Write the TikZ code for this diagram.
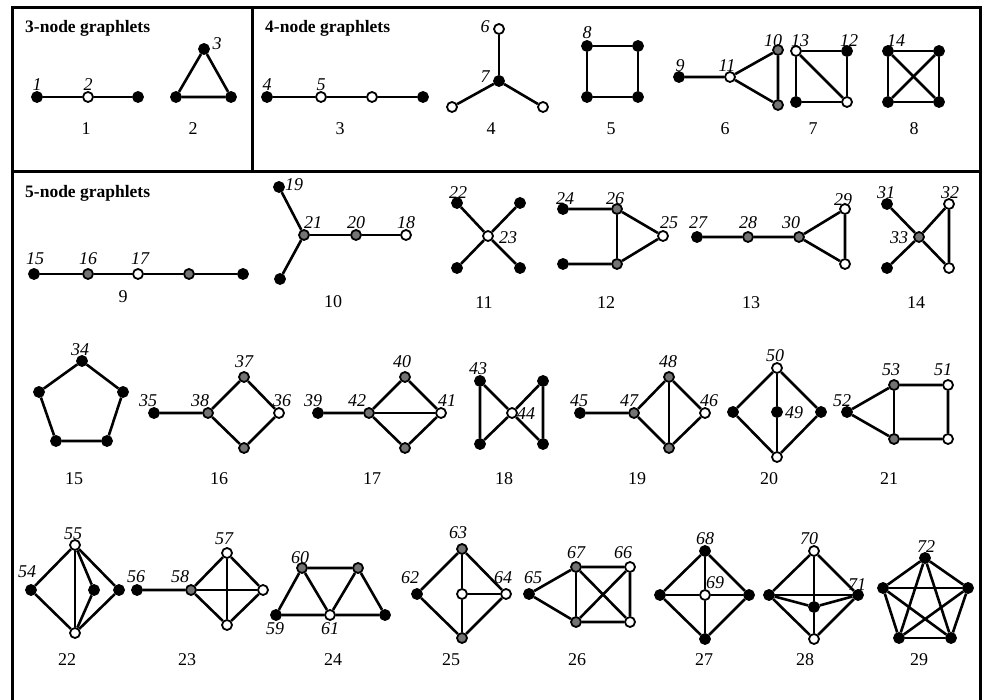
\documentclass[tikz,border=0pt]{standalone}
\usepackage{fontspec}
\setmainfont{Liberation Serif}

\tikzset{
  vb/.style={circle, draw=black, line width=1.8pt, fill=black, minimum size=10pt, inner sep=0pt},
  vw/.style={vb, fill=white},
  vg/.style={vb, fill=black!55},
  lbl/.style={font=\fontsize{18}{18}\selectfont\itshape, inner sep=0pt},
  gnum/.style={font=\fontsize{18}{18}\selectfont, inner sep=0pt},
  ttl/.style={font=\fontsize{17.5}{17.5}\selectfont\bfseries, inner sep=0pt, anchor=west},
  edge/.style={line width=2.6pt},
  frame/.style={line width=3pt}
}

\begin{document}
\begin{tikzpicture}[x=1pt, y=-1pt]

    \useasboundingbox (0,0) rectangle (986,700);

    %----- FRAME -----
    \draw[frame] (12,702) -- (12,8) -- (980,8) -- (980,702);
    \draw[frame] (12,172) -- (980,172);
    \draw[frame] (252,8) -- (252,172);

    %----- TITLES -----
    \node[ttl] (t3) at (25,28) {3-node graphlets};
    \node[ttl] (t4) at (265,28) {4-node graphlets};
    \node[ttl] (t5) at (25,193) {5-node graphlets};

    %----- GRAPHLET 1 -----
    \node[vb] (g1a) at (37,97) {};
    \node[vw] (g1b) at (88,97) {};
    \node[vb] (g1c) at (138,97) {};
    \draw[edge] (g1a) -- (g1b) -- (g1c);
    \node[lbl] (l1) at (37,85) {1};
    \node[lbl] (l2) at (88,85) {2};
    \node[gnum] (n1) at (86,129) {1};

    %----- GRAPHLET 2 -----
    \node[vb] (g2a) at (204,49) {};
    \node[vb] (g2b) at (176,97) {};
    \node[vb] (g2c) at (231,97) {};
    \draw[edge] (g2a) -- (g2b) -- (g2c) -- (g2a);
    \node[lbl] (l3) at (217,44) {3};
    \node[gnum] (n2) at (193,129) {2};

    %----- GRAPHLET 3 -----
    \node[vb] (g3a) at (267,97) {};
    \node[vw] (g3b) at (321,97) {};
    \node[vw] (g3c) at (372,97) {};
    \node[vb] (g3d) at (423,97) {};
    \draw[edge] (g3a) -- (g3b) -- (g3c) -- (g3d);
    \node[lbl] (l4) at (267,85) {4};
    \node[lbl] (l5) at (321,85) {5};
    \node[gnum] (n3) at (340,129) {3};

    %----- GRAPHLET 4 -----
    \node[vb] (g4a) at (499,81) {};
    \node[vw] (g4b) at (499,29) {};
    \node[vw] (g4c) at (452,107) {};
    \node[vw] (g4d) at (543,107) {};
    \draw[edge] (g4a) -- (g4b);
    \draw[edge] (g4a) -- (g4c);
    \draw[edge] (g4a) -- (g4d);
    \node[lbl] (l6) at (485,27) {6};
    \node[lbl] (l7) at (485,77) {7};
    \node[gnum] (n4) at (491,129) {4};

    %----- GRAPHLET 5 -----
    \node[vb] (g5a) at (587,46) {};
    \node[vb] (g5b) at (638,46) {};
    \node[vb] (g5c) at (587,97) {};
    \node[vb] (g5d) at (638,97) {};
    \draw[edge] (g5a) -- (g5b) -- (g5d) -- (g5c) -- (g5a);
    \node[lbl] (l8) at (587,33) {8};
    \node[gnum] (n5) at (611,129) {5};

    %----- GRAPHLET 6 -----
    \node[vb] (g6a) at (679,77) {};
    \node[vw] (g6b) at (730,77) {};
    \node[vg] (g6c) at (778,50) {};
    \node[vg] (g6d) at (778,105) {};
    \draw[edge] (g6a) -- (g6b) -- (g6c) -- (g6d) -- (g6b);
    \node[lbl] (l9) at (680,66) {9};
    \node[lbl] (l11) at (727,66) {11};
    \node[lbl] (l10) at (773,41) {10};
    \node[gnum] (n6) at (725,129) {6};

    %----- GRAPHLET 7 -----
    \node[vw] (g7a) at (796,51) {};
    \node[vb] (g7b) at (847,51) {};
    \node[vb] (g7c) at (796,102) {};
    \node[vw] (g7d) at (847,102) {};
    \draw[edge] (g7a) -- (g7b) -- (g7d) -- (g7c) -- (g7a);
    \draw[edge] (g7a) -- (g7d);
    \node[lbl] (l13) at (800,41) {13};
    \node[lbl] (l12) at (849,41) {12};
    \node[gnum] (n7) at (813,129) {7};

    %----- GRAPHLET 8 -----
    \node[vb] (g8a) at (888,51) {};
    \node[vb] (g8b) at (939,51) {};
    \node[vb] (g8c) at (888,102) {};
    \node[vb] (g8d) at (939,102) {};
    \draw[edge] (g8a) -- (g8b) -- (g8d) -- (g8c) -- (g8a);
    \draw[edge] (g8a) -- (g8d);
    \draw[edge] (g8b) -- (g8c);
    \node[lbl] (l14) at (896,41) {14};
    \node[gnum] (n8) at (914,129) {8};

    %----- GRAPHLET 9 -----
    \node[vb] (g9a) at (34,274) {};
    \node[vg] (g9b) at (88,274) {};
    \node[vw] (g9c) at (138,274) {};
    \node[vg] (g9d) at (189,274) {};
    \node[vb] (g9e) at (243,274) {};
    \draw[edge] (g9a) -- (g9b) -- (g9c) -- (g9d) -- (g9e);
    \node[lbl] (l15) at (35,259) {15};
    \node[lbl] (l16) at (88,259) {16};
    \node[lbl] (l17) at (140,259) {17};
    \node[gnum] (n9) at (123,297) {9};

    %----- GRAPHLET 10 -----
    \node[vb] (g10a) at (279,187) {};
    \node[vg] (g10b) at (304,235) {};
    \node[vb] (g10c) at (280,279) {};
    \node[vg] (g10d) at (356,235) {};
    \node[vw] (g10e) at (406,235) {};
    \draw[edge] (g10a) -- (g10b) -- (g10c);
    \draw[edge] (g10b) -- (g10d) -- (g10e);
    \node[lbl] (l19) at (294,185) {19};
    \node[lbl] (l21) at (313,223) {21};
    \node[lbl] (l20) at (356,223) {20};
    \node[lbl] (l18) at (406,223) {18};
    \node[gnum] (n10) at (333,302) {10};

    %----- GRAPHLET 11 -----
    \node[vw] (g11c) at (488,236) {};
    \node[vb] (g11a) at (457,203) {};
    \node[vb] (g11b) at (520,203) {};
    \node[vb] (g11d) at (457,268) {};
    \node[vb] (g11e) at (520,268) {};
    \draw[edge] (g11a) -- (g11c) -- (g11e);
    \draw[edge] (g11b) -- (g11c) -- (g11d);
    \node[lbl] (l22) at (458,193) {22};
    \node[lbl] (l23) at (508,238) {23};
    \node[gnum] (n11) at (484,303) {11};

    %----- GRAPHLET 12 -----
    \node[vb] (g12a) at (563,209) {};
    \node[vg] (g12b) at (617,209) {};
    \node[vb] (g12c) at (563,264) {};
    \node[vg] (g12d) at (617,264) {};
    \node[vw] (g12e) at (663,236) {};
    \draw[edge] (g12a) -- (g12b) -- (g12e) -- (g12d) -- (g12c);
    \draw[edge] (g12b) -- (g12d);
    \node[lbl] (l24) at (565,199) {24};
    \node[lbl] (l26) at (615,199) {26};
    \node[lbl] (l25) at (669,223) {25};
    \node[gnum] (n12) at (606,303) {12};

    %----- GRAPHLET 13 -----
    \node[vb] (g13a) at (697,237) {};
    \node[vg] (g13b) at (748,237) {};
    \node[vg] (g13c) at (799,237) {};
    \node[vw] (g13d) at (845,209) {};
    \node[vw] (g13e) at (845,264) {};
    \draw[edge] (g13a) -- (g13b) -- (g13c) -- (g13d) -- (g13e) -- (g13c);
    \node[lbl] (l27) at (698,223) {27};
    \node[lbl] (l28) at (748,223) {28};
    \node[lbl] (l30) at (791,223) {30};
    \node[lbl] (l29) at (843,200) {29};
    \node[gnum] (n13) at (751,303) {13};

    %----- GRAPHLET 14 -----
    \node[vb] (g14a) at (887,204) {};
    \node[vw] (g14b) at (949,204) {};
    \node[vg] (g14c) at (919,237) {};
    \node[vb] (g14d) at (887,268) {};
    \node[vw] (g14e) at (949,268) {};
    \draw[edge] (g14a) -- (g14c) -- (g14e) -- (g14b) -- (g14c) -- (g14d);
    \node[lbl] (l31) at (886,193) {31};
    \node[lbl] (l32) at (950,193) {32};
    \node[lbl] (l33) at (899,238) {33};
    \node[gnum] (n14) at (916,303) {14};

    %----- GRAPHLET 15 -----
    \node[vb] (g15a) at (82,361) {};
    \node[vb] (g15b) at (39,392) {};
    \node[vb] (g15c) at (123,392) {};
    \node[vb] (g15d) at (56,441) {};
    \node[vb] (g15e) at (107,441) {};
    \draw[edge] (g15a) -- (g15c) -- (g15e) -- (g15d) -- (g15b) -- (g15a);
    \node[lbl] (l34) at (80,350) {34};
    \node[gnum] (n15) at (74,479) {15};

    %----- GRAPHLET 16 -----
    \node[vb] (g16a) at (154,413) {};
    \node[vg] (g16b) at (208,413) {};
    \node[vg] (g16c) at (244,377) {};
    \node[vw] (g16d) at (279,413) {};
    \node[vg] (g16e) at (244,448) {};
    \draw[edge] (g16a) -- (g16b) -- (g16c) -- (g16d) -- (g16e) -- (g16b);
    \node[lbl] (l35) at (148,401) {35};
    \node[lbl] (l38) at (200,401) {38};
    \node[lbl] (l37) at (244,362) {37};
    \node[lbl] (l36) at (282,401) {36};
    \node[gnum] (n16) at (219,479) {16};

    %----- GRAPHLET 17 -----
    \node[vb] (g17a) at (318,413) {};
    \node[vg] (g17b) at (369,413) {};
    \node[vg] (g17c) at (405,377) {};
    \node[vw] (g17d) at (441,413) {};
    \node[vg] (g17e) at (405,448) {};
    \draw[edge] (g17a) -- (g17b) -- (g17c) -- (g17d) -- (g17e) -- (g17b);
    \draw[edge] (g17b) -- (g17d);
    \node[lbl] (l39) at (313,401) {39};
    \node[lbl] (l42) at (357,401) {42};
    \node[lbl] (l40) at (402,362) {40};
    \node[lbl] (l41) at (447,401) {41};
    \node[gnum] (n17) at (372,479) {17};

    %----- GRAPHLET 18 -----
    \node[vb] (g18a) at (480,381) {};
    \node[vb] (g18b) at (543,381) {};
    \node[vw] (g18c) at (512,413) {};
    \node[vb] (g18d) at (480,444) {};
    \node[vb] (g18e) at (543,444) {};
    \draw[edge] (g18a) -- (g18c) -- (g18e) -- (g18b) -- (g18c) -- (g18d) -- (g18a);
    \node[lbl] (l43) at (478,369) {43};
    \node[lbl] (l44) at (526,414) {44};
    \node[gnum] (n18) at (504,479) {18};

    %----- GRAPHLET 19 -----
    \node[vb] (g19a) at (580,413) {};
    \node[vg] (g19b) at (634,413) {};
    \node[vg] (g19c) at (669,377) {};
    \node[vw] (g19d) at (705,413) {};
    \node[vg] (g19e) at (669,448) {};
    \draw[edge] (g19a) -- (g19b) -- (g19c) -- (g19d) -- (g19e) -- (g19b);
    \draw[edge] (g19c) -- (g19e);
    \node[lbl] (l45) at (579,401) {45};
    \node[lbl] (l47) at (629,401) {47};
    \node[lbl] (l48) at (668,362) {48};
    \node[lbl] (l46) at (709,401) {46};
    \node[gnum] (n19) at (637,479) {19};

    %----- GRAPHLET 20 -----
    \node[vb] (g20a) at (733,412) {};
    \node[vw] (g20b) at (777,368) {};
    \node[vb] (g20c) at (777,412) {};
    \node[vb] (g20d) at (821,412) {};
    \node[vw] (g20e) at (777,457) {};
    \draw[edge] (g20a) -- (g20b) -- (g20d) -- (g20e) -- (g20a);
    \draw[edge] (g20b) -- (g20c) -- (g20e);
    \node[lbl] (l50) at (775,356) {50};
    \node[lbl] (l49) at (794,413) {49};
    \node[gnum] (n20) at (769,479) {20};

    %----- GRAPHLET 21 -----
    \node[vb] (g21a) at (847,412) {};
    \node[vg] (g21b) at (894,385) {};
    \node[vw] (g21c) at (948,385) {};
    \node[vg] (g21d) at (894,439) {};
    \node[vw] (g21e) at (948,439) {};
    \draw[edge] (g21a) -- (g21b) -- (g21c) -- (g21e) -- (g21d) -- (g21a);
    \draw[edge] (g21b) -- (g21d);
    \node[lbl] (l52) at (842,401) {52};
    \node[lbl] (l53) at (891,370) {53};
    \node[lbl] (l51) at (943,370) {51};
    \node[gnum] (n21) at (889,479) {21};

    %----- GRAPHLET 22 -----
    \node[vb] (g22a) at (31,590) {};
    \node[vw] (g22b) at (75,545) {};
    \node[vw] (g22c) at (75,633) {};
    \node[vb] (g22d) at (94,590) {};
    \node[vb] (g22e) at (119,590) {};
    \draw[edge] (g22a) -- (g22b) -- (g22e) -- (g22c) -- (g22a);
    \draw[edge] (g22b) -- (g22c);
    \draw[edge] (g22b) -- (g22d) -- (g22c);
    \node[lbl] (l54) at (27,572) {54};
    \node[lbl] (l55) at (73,534) {55};
    \node[gnum] (n22) at (67,660) {22};

    %----- GRAPHLET 23 -----
    \node[vb] (g23a) at (137,590) {};
    \node[vg] (g23b) at (191,590) {};
    \node[vw] (g23c) at (227,553) {};
    \node[vw] (g23d) at (263,590) {};
    \node[vw] (g23e) at (227,625) {};
    \draw[edge] (g23a) -- (g23b) -- (g23c) -- (g23d) -- (g23e) -- (g23b);
    \draw[edge] (g23b) -- (g23d);
    \draw[edge] (g23c) -- (g23e);
    \node[lbl] (l56) at (136,577) {56};
    \node[lbl] (l58) at (180,577) {58};
    \node[lbl] (l57) at (224,539) {57};
    \node[gnum] (n23) at (187,660) {23};

    %----- GRAPHLET 24 -----
    \node[vg] (g24a) at (302,568) {};
    \node[vb] (g24b) at (276,615) {};
    \node[vw] (g24c) at (330,615) {};
    \node[vg] (g24d) at (358,568) {};
    \node[vb] (g24e) at (385,615) {};
    \draw[edge] (g24a) -- (g24b) -- (g24c) -- (g24a) -- (g24d) -- (g24e) -- (g24c) -- (g24d);
    \node[lbl] (l60) at (300,558) {60};
    \node[lbl] (l59) at (275,629) {59};
    \node[lbl] (l61) at (330,629) {61};
    \node[gnum] (n24) at (333,660) {24};

    %----- GRAPHLET 25 -----
    \node[vg] (g25a) at (462,549) {};
    \node[vb] (g25b) at (417,594) {};
    \node[vw] (g25c) at (462,594) {};
    \node[vw] (g25d) at (506,594) {};
    \node[vg] (g25e) at (462,638) {};
    \draw[edge] (g25b) -- (g25a) -- (g25d) -- (g25e) -- (g25b);
    \draw[edge] (g25a) -- (g25c) -- (g25e);
    \draw[edge] (g25c) -- (g25d);
    \node[lbl] (l63) at (458,533) {63};
    \node[lbl] (l62) at (410,578) {62};
    \node[lbl] (l64) at (503,578) {64};
    \node[gnum] (n25) at (451,660) {25};

    %----- GRAPHLET 26 -----
    \node[vb] (g26a) at (529,594) {};
    \node[vg] (g26b) at (576,567) {};
    \node[vw] (g26c) at (630,567) {};
    \node[vg] (g26d) at (576,622) {};
    \node[vw] (g26e) at (630,622) {};
    \draw[edge] (g26a) -- (g26b) -- (g26c) -- (g26e) -- (g26d) -- (g26a);
    \draw[edge] (g26b) -- (g26d);
    \draw[edge] (g26b) -- (g26e);
    \draw[edge] (g26d) -- (g26c);
    \node[lbl] (l65) at (533,578) {65};
    \node[lbl] (l67) at (576,553) {67};
    \node[lbl] (l66) at (623,553) {66};
    \node[gnum] (n26) at (577,660) {26};

    %----- GRAPHLET 27 -----
    \node[vb] (g27a) at (705,551) {};
    \node[vb] (g27b) at (660,595) {};
    \node[vw] (g27c) at (705,595) {};
    \node[vb] (g27d) at (749,595) {};
    \node[vb] (g27e) at (705,639) {};
    \draw[edge] (g27a) -- (g27d) -- (g27e) -- (g27b) -- (g27a);
    \draw[edge] (g27a) -- (g27c) -- (g27e);
    \draw[edge] (g27b) -- (g27c) -- (g27d);
    \node[lbl] (l68) at (705,539) {68};
    \node[lbl] (l69) at (715,583) {69};
    \node[gnum] (n27) at (704,660) {27};

    %----- GRAPHLET 28 -----
    \node[vw] (g28a) at (814,551) {};
    \node[vb] (g28b) at (769,595) {};
    \node[vb] (g28c) at (814,607) {};
    \node[vb] (g28d) at (858,595) {};
    \node[vw] (g28e) at (814,639) {};
    \draw[edge] (g28a) -- (g28d) -- (g28e) -- (g28b) -- (g28a);
    \draw[edge] (g28a) -- (g28c) -- (g28e);
    \draw[edge] (g28b) -- (g28c) -- (g28d);
    \draw[edge] (g28b) -- (g28d);
    \node[lbl] (l70) at (809,539) {70};
    \node[lbl] (l71) at (857,585) {71};
    \node[gnum] (n28) at (805,660) {28};

    %----- GRAPHLET 29 -----
    \node[vb] (g29a) at (925,558) {};
    \node[vb] (g29b) at (883,588) {};
    \node[vb] (g29c) at (968,588) {};
    \node[vb] (g29d) at (899,638) {};
    \node[vb] (g29e) at (951,638) {};
    \foreach \u/\v in {a/b,a/c,a/d,a/e,b/c,b/d,b/e,c/d,c/e,d/e}
        \draw[edge] (g29\u) -- (g29\v);
    \node[lbl] (l72) at (926,547) {72};
    \node[gnum] (n29) at (919,660) {29};

\end{tikzpicture}
\end{document}
